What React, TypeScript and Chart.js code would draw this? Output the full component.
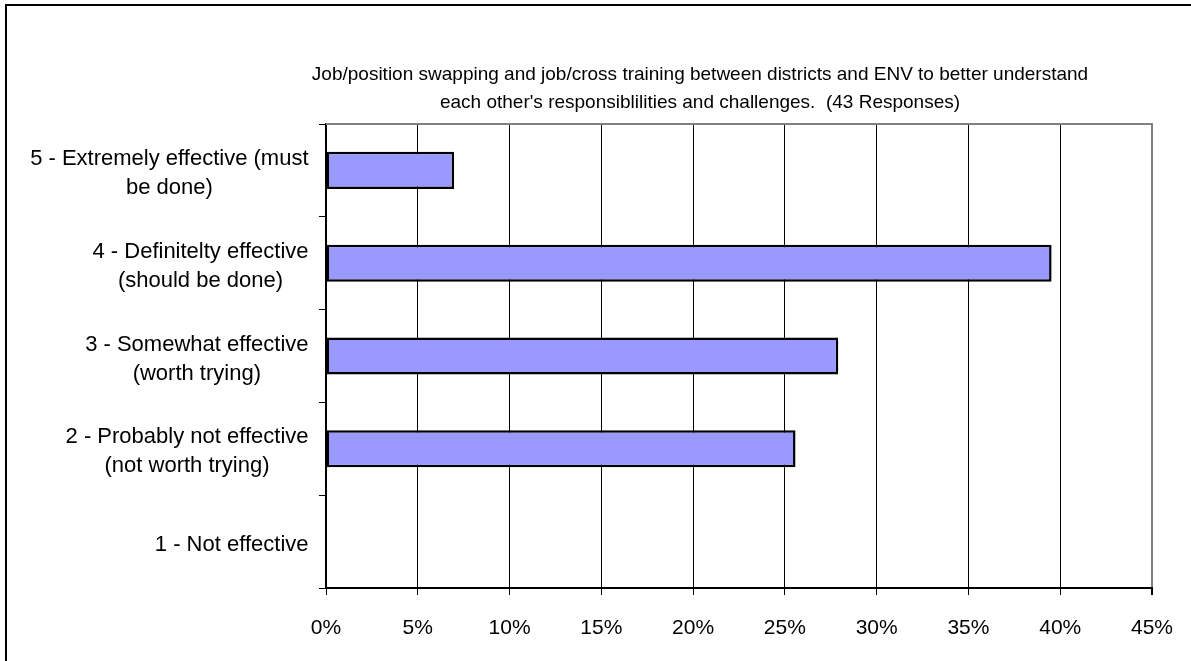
import { useEffect, useRef } from 'react';
import { Chart, registerables } from 'chart.js';

Chart.register(...registerables);

// Survey answer categories, top to bottom (multi-line labels)
const categories: string[][] = [
  ['5 - Extremely effective (must', 'be done)'],
  ['4 - Definitelty effective', '(should be done)'],
  ['3 - Somewhat effective', '(worth trying)'],
  ['2 - Probably not effective', '(not worth trying)'],
  ['1 - Not effective'],
];

// Share of the 43 responses, in percent
const responseShares = [6.98, 39.53, 27.91, 25.58, 0];

const xTickLabels = ['0%', '5%', '10%', '15%', '20%', '25%', '30%', '35%', '40%', '45%'];

const titleLines = [
  'Job/position swapping and job/cross training between districts and ENV to better understand',
  "each other's responsiblilities and challenges.  (43 Responses)",
];

const FONT = "'Liberation Sans', Arial, Helvetica, sans-serif";
const LABEL_SIZE = 22;
const TICK_SIZE = 21;
const TITLE_SIZE = 19;
const LINE_H = 29;

// Outer frame around the whole chart
const framePlugin = {
  id: 'frame',
  beforeDraw(chart: any) {
    const { ctx, width, height } = chart;
    ctx.save();
    ctx.fillStyle = '#fff';
    ctx.fillRect(0, 0, width, height);
    ctx.strokeStyle = '#000';
    ctx.lineWidth = 2;
    ctx.strokeRect(6, 5, width - 12, height - 10);
    ctx.restore();
  },
};

// Grey top edge of the plot area
const plotEdgePlugin = {
  id: 'plotEdge',
  beforeDatasetsDraw(chart: any) {
    const { ctx, chartArea } = chart;
    ctx.save();
    ctx.strokeStyle = '#808080';
    ctx.lineWidth = 2;
    ctx.beginPath();
    ctx.moveTo(chartArea.left, chartArea.top);
    ctx.lineTo(chartArea.right + 1, chartArea.top);
    ctx.stroke();
    ctx.restore();
  },
};

// Category labels: each block right-aligned to the axis, lines centred within the block
const blockLabelPlugin = {
  id: 'blockLabels',
  afterDraw(chart: any) {
    const { ctx } = chart;
    const yScale = chart.scales.y;
    ctx.save();
    ctx.font = `${LABEL_SIZE}px ${FONT}`;
    ctx.fillStyle = '#000';
    ctx.textAlign = 'center';
    ctx.textBaseline = 'middle';
    categories.forEach((lines, i) => {
      const cy = yScale.getPixelForTick(i) + 3;
      const widest = Math.max(...lines.map((l) => ctx.measureText(l).width));
      const cx = yScale.right - 17.5 - widest / 2;
      lines.forEach((line, j) => {
        ctx.fillText(line, cx, cy + (j - (lines.length - 1) / 2) * LINE_H);
      });
    });
    ctx.restore();
  },
};

export default function App() {
  const canvasRef = useRef<HTMLCanvasElement | null>(null);

  useEffect(() => {
    if (!canvasRef.current) return;
    const chart = new Chart(canvasRef.current, {
      type: 'bar',
      data: {
        labels: categories,
        datasets: [
          {
            data: responseShares,
            backgroundColor: '#9999FF',
            borderColor: '#000',
            borderWidth: 2.5,
            borderSkipped: false,
            barPercentage: 0.4,
            categoryPercentage: 1,
          },
        ],
      },
      options: {
        indexAxis: 'y',
        responsive: false,
        animation: false,
        devicePixelRatio: 1,
        layout: { padding: 0 },
        plugins: {
          legend: { display: false },
          tooltip: { enabled: false },
          title: {
            display: true,
            text: titleLines,
            color: '#000',
            font: { family: FONT, size: TITLE_SIZE, weight: 'normal', lineHeight: '28px' },
            padding: { top: 61, bottom: 7 },
          },
        },
        scales: {
          x: {
            type: 'linear',
            position: 'bottom',
            min: 0,
            max: 45,
            ticks: {
              stepSize: 5,
              color: '#000',
              padding: 21,
              maxRotation: 0,
              font: { family: FONT, size: TICK_SIZE },
              callback: (_v: any, i: number) => xTickLabels[i],
            },
            grid: {
              color: (c: any) => (c.index === xTickLabels.length - 1 ? '#808080' : '#000'),
              lineWidth: (c: any) => (c.index === xTickLabels.length - 1 ? 2 : 1),
              tickColor: '#000',
              tickLength: 7,
              drawTicks: true,
            },
            border: { display: true, color: '#000', width: 2 },
            afterFit: (s: any) => {
              s.height = 112;
            },
          },
          y: {
            type: 'category',
            position: 'left',
            offset: true,
            ticks: { display: false },
            grid: {
              offset: true,
              drawOnChartArea: false,
              drawTicks: true,
              tickLength: 7,
              tickColor: '#000',
              color: '#000',
              lineWidth: 1,
            },
            border: { display: true, color: '#000', width: 2 },
            afterFit: (s: any) => {
              s.width = 326;
            },
          },
          pad: {
            type: 'linear',
            position: 'right',
            display: true,
            ticks: { display: false },
            grid: { display: false, drawTicks: false },
            border: { display: false },
            afterFit: (s: any) => {
              s.width = 248;
            },
          },
        },
      },
      plugins: [framePlugin, plotEdgePlugin, blockLabelPlugin],
    } as any);
    return () => chart.destroy();
  }, []);

  return (
    <div
      style={{
        position: 'fixed',
        left: 0,
        top: 0,
        width: 1191,
        height: 661,
        overflow: 'hidden',
        background: '#fff',
      }}
    >
      <canvas ref={canvasRef} width={1400} height={700} style={{ display: 'block' }} />
    </div>
  );
}
